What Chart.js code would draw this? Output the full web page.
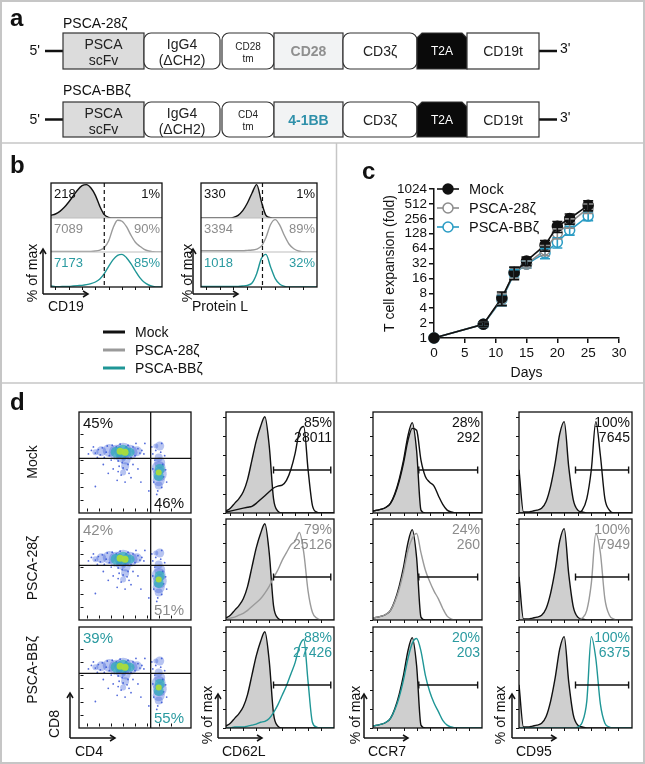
<!DOCTYPE html>
<html>
<head>
<meta charset="utf-8">
<script src="https://cdn.jsdelivr.net/npm/chart.js@4.4.1/dist/chart.umd.min.js"></script>
<style>
  html, body { margin: 0; padding: 0; background: #fff; }
  #fig { position: relative; width: 645px; height: 764px; overflow: hidden; }
  #fig canvas { position: absolute; }
  #overlay { position: absolute; left: 0; top: 0; z-index: 5; pointer-events: none; }
</style>
</head>
<body>
<div id="fig"><svg id="overlay" width="645" height="764"></svg></div>
<script>
// --- DATA: panel c (T cell expansion) ---
const DAYS = [0, 8, 11, 13, 15, 18, 20, 22, 25];
const MOCK_FOLD = [1, 1.9, 6.5, 21, 36, 75, 180, 260, 480];
const MOCK_ERR = [0, 0.2, 2.0, 6, 7, 18, 45, 60, 110];
const PSCA28_FOLD = [1, 1.9, 6.2, 21, 31, 60, 130, 210, 420];
const PSCA28_ERR = [0, 0.2, 1.6, 5, 5, 14, 30, 45, 90];
const PSCABB_FOLD = [1, 1.9, 6.0, 20, 31, 52, 86, 150, 290];
const PSCABB_ERR = [0, 0.2, 1.5, 4, 5, 12, 20, 30, 55];
const FOLD_TICKS = [1, 2, 4, 8, 16, 32, 64, 128, 256, 512, 1024];
const SERIES_NAMES = ['Mock', 'PSCA-28ζ', 'PSCA-BBζ'];

// --- DATA: histograms (channel bins, % of max) ---
const HIST_X = [0, 4, 8, 12, 16, 20, 24, 28, 32, 36, 40, 44, 48, 52, 56, 60, 64, 68, 72, 76, 80, 84, 88, 92, 96, 100];

// panel b
const B_CD19_MOCK = [8, 12, 20, 32, 48, 66, 84, 97, 100, 90, 68, 35, 10, 2, 0, 0, 0, 0, 0, 0, 0, 0, 0, 0, 0, 0];
const B_CD19_28 = [2, 2, 2, 2, 2, 2, 2, 2, 2, 2, 3, 6, 14, 35, 75, 98, 95, 78, 52, 30, 18, 8, 3, 1, 0, 0];
const B_CD19_BB = [3, 1, 1, 2, 2, 3, 4, 5, 7, 10, 15, 24, 40, 62, 82, 95, 98, 88, 70, 48, 28, 14, 6, 2, 0, 0];
const B_PL_MOCK = [0, 0, 0, 0, 0, 0, 0, 2, 8, 22, 45, 75, 100, 50, 8, 1, 0, 0, 0, 0, 0, 0, 0, 0, 0, 0];
const B_PL_28 = [4, 4, 4, 4, 4, 4, 4, 4, 4, 4, 5, 6, 9, 18, 45, 85, 100, 82, 50, 24, 10, 3, 1, 0, 0, 0];
const B_PL_BB = [2, 2, 2, 2, 2, 2, 2, 2, 2, 3, 5, 12, 40, 85, 98, 60, 25, 8, 2, 0, 0, 0, 0, 0, 0, 0];
const B_MFI = [['218', '7089', '7173'], ['330', '3394', '1018']];
const B_PCT = [['1%', '90%', '85%'], ['1%', '89%', '32%']];

// panel d histograms
const D_CD62L_REF = [2, 5, 10, 15, 22, 35, 55, 75, 90, 100, 70, 15, 2, 0, 0, 0, 0, 0, 0, 0, 0, 0, 0, 0, 0, 0];
const D_CD62L_MOCK = [1, 2, 3, 4, 5, 6, 7, 10, 14, 18, 22, 26, 28, 29, 34, 45, 62, 85, 90, 45, 8, 1, 0, 0, 0, 0];
const D_CD62L_28 = [1, 2, 3, 5, 7, 10, 14, 18, 22, 28, 35, 44, 52, 62, 70, 78, 82, 91, 70, 30, 8, 2, 0, 0, 0, 0];
const D_CD62L_BB = [0, 0, 1, 1, 1, 2, 3, 4, 6, 7, 10, 16, 24, 34, 44, 56, 68, 85, 92, 48, 6, 1, 0, 0, 0, 0];
const D_CCR7_REF = [2, 3, 4, 6, 10, 20, 35, 55, 80, 94, 65, 3, 0, 0, 0, 0, 0, 0, 0, 0, 0, 0, 0, 0, 0, 0];
const D_CCR7_MOCK = [2, 3, 4, 6, 10, 19, 33, 52, 75, 88, 86, 55, 38, 32, 28, 18, 9, 3, 1, 0, 0, 0, 0, 0, 0, 0];
const D_CCR7_28 = [2, 3, 4, 6, 10, 19, 32, 50, 72, 85, 90, 70, 52, 40, 30, 22, 12, 4, 1, 0, 0, 0, 0, 0, 0, 0];
const D_CCR7_BB = [2, 3, 4, 6, 10, 19, 32, 50, 72, 88, 93, 80, 55, 38, 26, 17, 8, 3, 1, 0, 0, 0, 0, 0, 0, 0];
const D_CD95_REF = [45, 1, 1, 2, 3, 5, 12, 28, 52, 82, 95, 48, 14, 3, 1, 0, 0, 0, 0, 0, 0, 0, 0, 0, 0, 0];
const D_CD95_MOCK = [0, 0, 0, 0, 0, 0, 0, 0, 0, 0, 0, 0, 0, 0, 3, 15, 45, 95, 60, 15, 3, 0, 0, 0, 0, 0];
const D_CD95_28 = [0, 0, 0, 0, 0, 0, 0, 0, 0, 0, 0, 0, 0, 0, 2, 10, 38, 90, 70, 22, 5, 1, 0, 0, 0, 0];
const D_CD95_BB = [0, 0, 0, 0, 0, 0, 0, 0, 0, 0, 0, 0, 0, 1, 6, 28, 95, 72, 25, 5, 1, 0, 0, 0, 0, 0];
const D_PCT = [['85%', '79%', '88%'], ['28%', '24%', '20%'], ['100%', '100%', '100%']];
const D_MFI = [['28011', '25126', '27426'], ['292', '260', '203'], ['7645', '7949', '6375']];
const D_QUAD = [['45%', '46%'], ['42%', '51%'], ['39%', '55%']];

// panel d CD4 / CD8 dot plots (positions in % of axis, r = blob size)
const CD8_HALO = [{x: 18, y: 65, r: 5}, {x: 26, y: 66, r: 6.5}, {x: 33, y: 64, r: 7.5}, {x: 40, y: 65, r: 8.5}, {x: 47, y: 64, r: 7.5}, {x: 54, y: 65, r: 5}, {x: 38, y: 58, r: 5}, {x: 43, y: 55, r: 4.5}, {x: 42, y: 48, r: 4}, {x: 40, y: 41, r: 3}, {x: 12, y: 64, r: 3}];
const CD8_MID = [{x: 33, y: 64, r: 5.5}, {x: 40, y: 65, r: 6.5}, {x: 47, y: 64, r: 4.5}];
const CD8_CORE = [{x: 37, y: 65, r: 3.5}, {x: 42, y: 64, r: 3.5}];
const CD4_HALO = [{x: 76, y: 26, r: 4}, {x: 76, y: 32, r: 6}, {x: 77, y: 39, r: 7}, {x: 76, y: 46, r: 7}, {x: 77, y: 52, r: 5.5}, {x: 76, y: 58, r: 4}, {x: 77, y: 71, r: 4.5}, {x: 73, y: 71, r: 2.5}];
const CD4_MID = [{x: 76, y: 37, r: 5}, {x: 77, y: 45, r: 5}];
const CD4_CORE = [{x: 76, y: 41, r: 3}];
const SPARSE_EVENTS = [[8, 66], [12, 63], [15, 67], [17, 61], [19, 69], [21, 58], [24, 71], [26, 60], [29, 72], [31, 57], [33, 70], [35, 54],
  [37, 73], [45, 72], [48, 58], [50, 70], [52, 60], [55, 68], [57, 63], [59, 66], [61, 62], [36, 48], [40, 46], [44, 44], [38, 38],
  [46, 40], [34, 32], [42, 30], [48, 35], [30, 45], [50, 50], [70, 62], [72, 55], [80, 50], [81, 36], [71, 30], [79, 24], [75, 20],
  [82, 60], [73, 66], [79, 74], [70, 45], [83, 44], [12, 25], [25, 40], [58, 30], [62, 74], [66, 20], [20, 50], [55, 45],
  [5, 62], [10, 70], [14, 58], [23, 64], [28, 55], [43, 70], [53, 74], [39, 52], [45, 50], [35, 42], [74, 16], [78, 64], [84, 30], [69, 70]];

// --- STYLE ---
const FONT = '"Liberation Sans", Arial, Helvetica, sans-serif';
const BLACK = '#111';
const GREY = '#9a9a9a';
const TEAL = '#1f9696';
const ROW_TEXT = ['#111', '#8c8c8c', '#2a9aa0'];
const ROW_LINE = [BLACK, GREY, TEAL];
const FILL_GREY = '#cfcfcf';
const EDGE_Y = [0, 20, 40, 60, 80, 100];
const EDGE_X = [4, 16, 28, 40, 52, 64, 76, 88];

Chart.defaults.font.family = FONT;
Chart.defaults.color = BLACK;
Chart.defaults.animation = false;

const fig = document.getElementById('fig');
const svg = document.getElementById('overlay');

// --- SVG helpers ---
function el(tag, attrs) {
    const e = document.createElementNS('http://www.w3.org/2000/svg', tag);
    for (const k in attrs) e.setAttribute(k, attrs[k]);
    svg.appendChild(e);
    return e;
}
function text(x, y, s, o = {}) {
    const t = el('text', {
        x, y, 'font-size': o.size || 14, fill: o.color || BLACK,
        'text-anchor': o.anchor || 'start', 'dominant-baseline': 'central',
        'font-weight': o.weight || 'normal', 'font-family': FONT
    });
    if (o.rot) t.setAttribute('transform', `rotate(${o.rot} ${x} ${y})`);
    t.textContent = s;
    return t;
}
function line(x1, y1, x2, y2, color = BLACK, w = 1.2, dash) {
    const l = el('line', {x1, y1, x2, y2, stroke: color, 'stroke-width': w});
    if (dash) l.setAttribute('stroke-dasharray', dash);
    return l;
}
function arrows(x0, y0, len) {
    // L-shaped axis arrows (up and right)
    line(x0, y0, x0, y0 - len, BLACK, 1.5);
    line(x0, y0, x0 + len, y0, BLACK, 1.5);
    el('polyline', {points: `${x0 - 3},${y0 - len + 5} ${x0},${y0 - len} ${x0 + 3},${y0 - len + 5}`, fill: 'none', stroke: BLACK, 'stroke-width': 1.5});
    el('polyline', {points: `${x0 + len - 5},${y0 - 3} ${x0 + len},${y0} ${x0 + len - 5},${y0 + 3}`, fill: 'none', stroke: BLACK, 'stroke-width': 1.5});
}
function makeCanvas(left, top, w, h) {
    const c = document.createElement('canvas');
    c.width = w; c.height = h;
    c.style.left = left + 'px'; c.style.top = top + 'px';
    c.style.width = w + 'px'; c.style.height = h + 'px';
    fig.insertBefore(c, svg);
    return c;
}

// small outward tick marks along the left / bottom frame of a flow plot
const edgeTicks = {
    id: 'edgeTicks',
    afterDraw(chart, args, opts) {
        if (!opts.on) return;
        const {ctx, chartArea: a, scales: {x, y}} = chart;
        ctx.save();
        ctx.strokeStyle = BLACK;
        ctx.lineWidth = 1;
        ctx.beginPath();
        (opts.left || []).forEach(v => {
            const py = Math.round(y.getPixelForValue(v)) + 0.5;
            ctx.moveTo(a.left - 3, py); ctx.lineTo(a.left, py);
        });
        (opts.bottom || []).forEach(v => {
            const px = Math.round(x.getPixelForValue(v)) + 0.5;
            ctx.moveTo(px, a.bottom); ctx.lineTo(px, a.bottom + 3);
        });
        ctx.stroke();
        ctx.restore();
    }
};

// error bars for panel c (mean +/- SD, drawn on the log scale)
const FOLD_ERRORS = [MOCK_ERR, PSCA28_ERR, PSCABB_ERR];
const errorBars = {
    id: 'errorBars',
    afterDatasetsDraw(chart, args, opts) {
        if (!opts.on) return;
        const {ctx, scales: {x, y}} = chart;
        ctx.save();
        for (let i = chart.data.datasets.length - 1; i >= 0; i--) {
            const ds = chart.data.datasets[i];
            ctx.strokeStyle = ds.borderColor;
            ctx.lineWidth = 1.6;
            FOLD_ERRORS[i].forEach((e, j) => {
                if (!e) return;
                const v = ds.data[j].y;
                const px = x.getPixelForValue(DAYS[j]);
                const top = y.getPixelForValue(v + e);
                const bot = y.getPixelForValue(Math.max(v - e, 1));
                ctx.beginPath();
                ctx.moveTo(px, top); ctx.lineTo(px, bot);
                ctx.moveTo(px - 5, top); ctx.lineTo(px + 5, top);
                ctx.moveTo(px - 5, bot); ctx.lineTo(px + 5, bot);
                ctx.stroke();
            });
        }
        ctx.restore();
    }
};
Chart.register(edgeTicks, errorBars);

function histChart(box, series, ticks) {
    const padL = ticks.left ? 4 : 0, padB = ticks.bottom ? 4 : 0;
    const cv = makeCanvas(box.x - padL, box.y, box.w + padL, box.h + padB);
    return new Chart(cv, {
        type: 'line',
        data: {
            datasets: series.map(s => ({
                data: HIST_X.map((x, i) => ({x, y: s.values[i]})),
                borderColor: s.color,
                borderWidth: 1.4,
                backgroundColor: s.fill || 'transparent',
                fill: s.fill ? 'origin' : false,
                pointRadius: 0,
                cubicInterpolationMode: 'monotone'
            }))
        },
        options: {
            responsive: false, events: [],
            layout: {padding: {left: padL, bottom: padB}},
            scales: {
                x: {type: 'linear', min: 0, max: 100, display: false},
                y: {min: 0, max: 105, display: false}
            },
            plugins: {
                legend: {display: false}, tooltip: {enabled: false},
                edgeTicks: {on: true, left: ticks.left ? EDGE_Y : null, bottom: ticks.bottom ? EDGE_X : null}
            }
        }
    });
}

function dotChart(box) {
    const cv = makeCanvas(box.x - 4, box.y, box.w + 4, box.h + 4);
    const sparse = SPARSE_EVENTS.map(p => ({x: p[0], y: p[1], r: 0.9}));
    return new Chart(cv, {
        type: 'bubble',
        data: {
            datasets: [
                {data: CD8_CORE.concat(CD4_CORE), backgroundColor: 'rgba(170,220,60,0.95)', borderWidth: 0},
                {data: CD8_MID.concat(CD4_MID), backgroundColor: 'rgba(40,175,180,0.65)', borderWidth: 0},
                {data: CD8_HALO.concat(CD4_HALO), backgroundColor: 'rgba(50,85,215,0.35)', borderWidth: 0},
                {data: sparse, backgroundColor: 'rgba(40,70,210,0.8)', borderWidth: 0}
            ]
        },
        options: {
            responsive: false, events: [],
            layout: {padding: {left: 4, bottom: 4}},
            scales: {
                x: {type: 'linear', min: 0, max: 100, display: false},
                y: {min: 0, max: 100, display: false}
            },
            plugins: {
                legend: {display: false}, tooltip: {enabled: false},
                edgeTicks: {on: true, left: [10, 25, 40, 55, 70, 85], bottom: [4, 16, 28, 40, 52, 64, 76, 88]}
            }
        }
    });
}

// --- PANEL FRAMES ---
el('rect', {x: 1, y: 1, width: 643, height: 762, fill: 'none', stroke: '#c6c6c6', 'stroke-width': 2});
line(0, 143, 645, 143, '#c6c6c6', 1.5);
line(0, 383, 645, 383, '#c6c6c6', 1.5);
line(336.5, 143, 336.5, 383, '#c6c6c6', 1.5);
text(10, 17, 'a', {size: 24, weight: 'bold'});
text(10, 164, 'b', {size: 24, weight: 'bold'});
text(362, 170, 'c', {size: 24, weight: 'bold'});
text(10, 401, 'd', {size: 24, weight: 'bold'});

// --- PANEL a: constructs ---
const A_ROWS = [
    {name: 'PSCA-28ζ', nameY: 23, top: 33, bot: 69, tm: 'CD28', cos: 'CD28', cosColor: '#8f8f8f'},
    {name: 'PSCA-BBζ', nameY: 90, top: 102, bot: 137, tm: 'CD4', cos: '4-1BB', cosColor: '#2f90aa'}
];
A_ROWS.forEach(r => {
    const mid = (r.top + r.bot) / 2, h = r.bot - r.top;
    text(63, r.nameY, r.name, {size: 14});
    text(40, mid - 1, "5'", {size: 14, anchor: 'end'});
    line(45, mid, 63, mid, BLACK, 2.5);
    line(539, mid, 557, mid, BLACK, 2.5);
    text(560, mid - 3, "3'", {size: 14});
    const st = {stroke: '#333', 'stroke-width': 1.2};
    el('rect', Object.assign({x: 63, y: r.top, width: 81, height: h, fill: '#dcdcdc'}, st));
    el('rect', Object.assign({x: 144, y: r.top, width: 76, height: h, rx: 7, fill: '#fff'}, st));
    el('rect', Object.assign({x: 222, y: r.top, width: 52, height: h, rx: 7, fill: '#fff'}, st));
    el('rect', Object.assign({x: 274, y: r.top, width: 69, height: h, fill: '#f2f3f4'}, st));
    el('rect', Object.assign({x: 343, y: r.top, width: 74, height: h, rx: 7, fill: '#fff'}, st));
    el('polygon', Object.assign({points: `417,${r.top + 5} 422,${r.top} 462,${r.top} 467,${r.top + 5} 467,${r.bot} 417,${r.bot}`, fill: '#0a0a0a'}, st));
    el('rect', Object.assign({x: 467, y: r.top, width: 72, height: h, fill: '#fff'}, st));
    text(103.5, mid - 7, 'PSCA', {size: 14, anchor: 'middle', color: '#222'});
    text(103.5, mid + 9, 'scFv', {size: 14, anchor: 'middle', color: '#222'});
    text(182, mid - 7, 'IgG4', {size: 14, anchor: 'middle', color: '#222'});
    text(182, mid + 9, '(ΔCH2)', {size: 14, anchor: 'middle', color: '#222'});
    text(248, mid - 5, r.tm, {size: 10, anchor: 'middle', color: '#222'});
    text(248, mid + 7, 'tm', {size: 10, anchor: 'middle', color: '#222'});
    text(308.5, mid, r.cos, {size: 14, anchor: 'middle', weight: 'bold', color: r.cosColor});
    text(380, mid, 'CD3ζ', {size: 14, anchor: 'middle', color: '#222'});
    text(442, mid, 'T2A', {size: 12, anchor: 'middle', color: '#fff'});
    text(503, mid, 'CD19t', {size: 14, anchor: 'middle', color: '#222'});
});

// --- PANEL b: CD19 / Protein L histograms ---
const B_PLOTS = [
    {x: 51, w: 111, gate: 48, curves: [B_CD19_MOCK, B_CD19_28, B_CD19_BB], axis: 'CD19', arrowX: 43, labelX: 32},
    {x: 201, w: 116, gate: 53, curves: [B_PL_MOCK, B_PL_28, B_PL_BB], axis: 'Protein L', arrowX: 193, labelX: 187}
];
const B_ROWS = [183, 218, 252, 287];
B_PLOTS.forEach((p, pi) => {
    for (let k = 0; k < 3; k++) {
        const box = {x: p.x, y: B_ROWS[k], w: p.w, h: B_ROWS[k + 1] - B_ROWS[k]};
        histChart(box, [{values: p.curves[k], color: ROW_LINE[k], fill: k === 0 ? FILL_GREY : null}],
            {left: false, bottom: k === 2});
        text(p.x + 3, B_ROWS[k] + 10, B_MFI[pi][k], {size: 13, color: ROW_TEXT[k]});
        text(p.x + p.w - 2, B_ROWS[k] + 10, B_PCT[pi][k], {size: 13, color: ROW_TEXT[k], anchor: 'end'});
    }
    line(p.x, B_ROWS[1], p.x + p.w, B_ROWS[1], '#bdbdbd', 1);
    line(p.x, B_ROWS[2], p.x + p.w, B_ROWS[2], '#bdbdbd', 1);
    el('rect', {x: p.x, y: B_ROWS[0], width: p.w, height: B_ROWS[3] - B_ROWS[0], fill: 'none', stroke: BLACK, 'stroke-width': 1.3});
    const gx = p.x + p.gate / 100 * p.w;
    line(gx, B_ROWS[0], gx, B_ROWS[3], BLACK, 1.2, '4 3');
    arrows(p.arrowX, 294, 45);
    text(p.labelX, 273, '% of max', {size: 14, anchor: 'middle', rot: -90});
    text(pi === 0 ? 48 : 192, 306, p.axis, {size: 14});
});
[332, 350, 368].forEach((y, k) => {
    line(103, y, 125, y, ROW_LINE[k], 3);
    text(135, y, SERIES_NAMES[k], {size: 14});
});

// --- PANEL c: T cell expansion ---
const cCanvas = makeCanvas(337, 144, 306, 238);
new Chart(cCanvas, {
    type: 'line',
    data: {
        labels: DAYS,
        datasets: [
            {label: SERIES_NAMES[0], data: MOCK_FOLD, borderColor: BLACK, backgroundColor: BLACK,
             pointBackgroundColor: BLACK, pointRadius: 5, borderWidth: 1.6, pointBorderWidth: 1.5},
            {label: SERIES_NAMES[1], data: PSCA28_FOLD, borderColor: '#8c8c8c', backgroundColor: '#8c8c8c',
             pointBackgroundColor: '#fff', pointRadius: 5, borderWidth: 1.6, pointBorderWidth: 1.5},
            {label: SERIES_NAMES[2], data: PSCABB_FOLD, borderColor: '#2a9cc4', backgroundColor: '#2a9cc4',
             pointBackgroundColor: '#fff', pointRadius: 5, borderWidth: 1.6, pointBorderWidth: 1.5}
        ].map(d => Object.assign(d, {data: d.data.map((v, i) => ({x: DAYS[i], y: v})), clip: false}))
    },
    options: {
        responsive: false, events: [],
        layout: {padding: {left: 45, top: 45, right: 24, bottom: 0}},
        scales: {
            x: {
                type: 'linear', min: 0, max: 30,
                ticks: {stepSize: 5, font: {size: 13.5}, padding: 2, color: BLACK},
                grid: {drawOnChartArea: false, tickLength: 5, color: BLACK, lineWidth: 1.5},
                border: {color: BLACK, width: 1.5},
                title: {display: true, text: 'Days', font: {size: 14}, color: BLACK, padding: 0},
                afterFit: s => { s.height = 44; }
            },
            y: {
                type: 'logarithmic', min: 1, max: 1024,
                afterBuildTicks: s => { s.ticks = FOLD_TICKS.map(v => ({value: v})); },
                ticks: {callback: v => String(v), font: {size: 13.5}, padding: 2, color: BLACK, autoSkip: false},
                grid: {drawOnChartArea: false, tickLength: 5, color: BLACK, lineWidth: 1.5},
                border: {color: BLACK, width: 1.5},
                title: {display: true, text: 'T cell expansion (fold)', font: {size: 14}, color: BLACK, padding: 0},
                afterFit: s => { s.width = 52; }
            }
        },
        plugins: {legend: {display: false}, tooltip: {enabled: false}, errorBars: {on: true}}
    }
});
[{y: 189, c: BLACK, f: BLACK}, {y: 208, c: '#8c8c8c', f: '#fff'}, {y: 227, c: '#2a9cc4', f: '#fff'}].forEach((s, k) => {
    line(437, s.y, 459, s.y, s.c, 1.6);
    el('circle', {cx: 448, cy: s.y, r: 5, fill: s.f, stroke: s.c, 'stroke-width': 1.5});
    text(469, s.y, SERIES_NAMES[k], {size: 14.5});
});

// --- PANEL d: phenotype ---
const D_ROW_TOPS = [412, 519, 627];
const D_ROW_H = 101;
const D_ROW_LABEL_Y = [462, 568, 670];
const DOT_BOX = {x: 79, w: 112, qx: 64, qy: 54};
const D_COLS = [
    {x: 226, w: 108, ref: D_CD62L_REF, samples: [D_CD62L_MOCK, D_CD62L_28, D_CD62L_BB], gate: [44, 97], marker: 'CD62L', arrowX: 218, labelX: 207},
    {x: 373, w: 109, ref: D_CCR7_REF, samples: [D_CCR7_MOCK, D_CCR7_28, D_CCR7_BB], gate: [42, 96], marker: 'CCR7', arrowX: 364, labelX: 355},
    {x: 519, w: 113, ref: D_CD95_REF, samples: [D_CD95_MOCK, D_CD95_28, D_CD95_BB], gate: [50, 97], marker: 'CD95', arrowX: 512, labelX: 500}
];

D_ROW_TOPS.forEach((top, r) => {
    text(32, D_ROW_LABEL_Y[r], SERIES_NAMES[r], {size: 14, anchor: 'middle', rot: -90});
    // CD4 / CD8 dot plot
    const box = {x: DOT_BOX.x, y: top, w: DOT_BOX.w, h: D_ROW_H};
    dotChart(box);
    el('rect', {x: box.x, y: top, width: box.w, height: D_ROW_H, fill: 'none', stroke: BLACK, 'stroke-width': 1.3});
    const qx = box.x + DOT_BOX.qx / 100 * box.w, qy = top + (1 - DOT_BOX.qy / 100) * D_ROW_H;
    line(qx, top, qx, top + D_ROW_H, BLACK, 1.3);
    line(box.x, qy, box.x + box.w, qy, BLACK, 1.3);
    text(box.x + 4, top + 10, D_QUAD[r][0], {size: 15, color: ROW_TEXT[r]});
    text(box.x + box.w - 7, top + D_ROW_H - 11, D_QUAD[r][1], {size: 15, color: ROW_TEXT[r], anchor: 'end'});

    // histograms
    D_COLS.forEach((c, ci) => {
        const hb = {x: c.x, y: top, w: c.w, h: D_ROW_H};
        histChart(hb, [
            {values: c.samples[r], color: ROW_LINE[r]},
            {values: c.ref, color: BLACK, fill: FILL_GREY}
        ], {left: true, bottom: true});
        el('rect', {x: c.x, y: top, width: c.w, height: D_ROW_H, fill: 'none', stroke: BLACK, 'stroke-width': 1.3});
        const gy = top + 58, g0 = c.x + c.gate[0] / 100 * c.w, g1 = c.x + c.gate[1] / 100 * c.w;
        line(g0, gy, g1, gy, BLACK, 1.4);
        line(g0, gy - 3.5, g0, gy + 3.5, BLACK, 1.4);
        line(g1, gy - 3.5, g1, gy + 3.5, BLACK, 1.4);
        text(c.x + c.w - 2, top + 10, D_PCT[ci][r], {size: 14, color: ROW_TEXT[r], anchor: 'end'});
        text(c.x + c.w - 2, top + 25, D_MFI[ci][r], {size: 14, color: ROW_TEXT[r], anchor: 'end'});
    });
});
arrows(70, 738, 45);
text(54, 724, 'CD8', {size: 14, anchor: 'middle', rot: -90});
text(75, 751, 'CD4', {size: 14});
D_COLS.forEach(c => {
    arrows(c.arrowX, 738, 44);
    text(c.labelX, 715, '% of max', {size: 14, anchor: 'middle', rot: -90});
    text(c.arrowX + 4, 751, c.marker, {size: 14});
});
</script>
</body>
</html>
